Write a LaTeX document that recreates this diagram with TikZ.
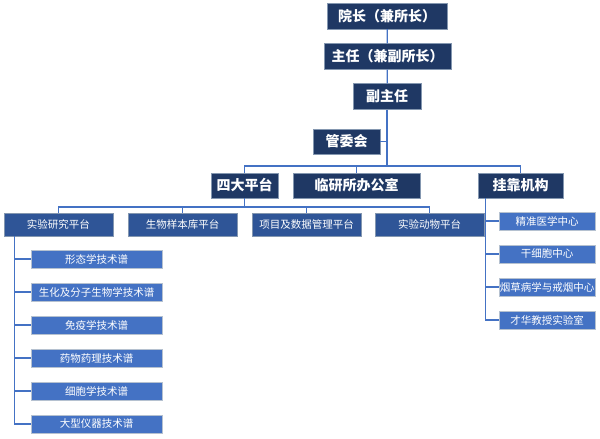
\documentclass[tikz,border=0pt]{standalone}
\usepackage{fontspec}
\setmainfont{Noto Sans CJK SC}
\usetikzlibrary{positioning,calc}
\definecolor{pnavy}{RGB}{31,56,100}
\definecolor{pmid}{RGB}{47,85,151}
\definecolor{plight}{RGB}{68,114,196}
\definecolor{pedge}{RGB}{132,151,176}
\definecolor{pline}{RGB}{68,114,196}

\begin{document}
\begin{tikzpicture}[x=1pt,y=-1pt,
    topbox/.style={fill=pnavy, draw=pedge, text=white, inner sep=0pt, minimum height=26pt, font=\fontsize{14}{14}\selectfont\bfseries},
    platbox/.style={fill=pmid, draw=pedge, text=white, inner sep=0pt, minimum width=109pt, minimum height=23pt, font=\fontsize{10.5}{10.5}\selectfont},
    subbox/.style={fill=plight, draw=pedge!60, text=white, inner sep=0pt, minimum height=18pt, font=\fontsize{10.5}{10.5}\selectfont},
    link/.style={draw=pline, line width=1.2pt}]
    \useasboundingbox (0,0) rectangle (600,439);

    % leadership
    \node[topbox, minimum width=120pt] (dean) at (387,16) {院长（兼所长）};
    \node[topbox, minimum width=127pt] (director) at (387.5,56.5) {主任（兼副所长）};
    \node[topbox, minimum width=68pt] (viceDirector) at (387,96.5) {副主任};
    \node[topbox, minimum width=67pt, minimum height=25pt] (committee) at (346.5,141.5) {管委会};

    % second level
    \node[topbox, minimum width=67pt, minimum height=25pt] (platforms) at (244.5,185.5) {四大平台};
    \node[topbox, minimum width=127pt, minimum height=25pt] (office) at (356.5,185.5) {临研所办公室};
    \node[topbox, minimum width=85pt, minimum height=25pt] (affiliates) at (520.5,185.5) {挂靠机构};

    % four platforms
    \node[platbox] (labPlatform) at (58.5,224.5) {实验研究平台};
    \node[platbox] (biobank) at (182.5,224.5) {生物样本库平台};
    \node[platbox] (dataPlatform) at (306.5,224.5) {项目及数据管理平台};
    \node[platbox] (animalPlatform) at (429.5,224.5) {实验动物平台};

    % technical spectra
    \foreach \name/\txt [count=\i from 0] in {morph/形态学技术谱, biochem/生化及分子生物学技术谱, immuno/免疫学技术谱, pharma/药物药理技术谱, cyto/细胞学技术谱, instr/大型仪器技术谱}
        \node[subbox, minimum width=131pt] (\name) at (96.5,259+33*\i) {\txt};

    % affiliated units
    \foreach \name/\txt [count=\i from 0] in {precision/精准医学中心, stemCell/干细胞中心, tobacco/烟草病学与戒烟中心, caiLab/才华教授实验室}
        \node[subbox, minimum width=96pt] (\name) at (547,221+33*\i) {\txt};

    % connectors
    \coordinate (busTop) at (387,166);
    \coordinate (busPlat) at (244.5,207);
    \draw[link] (dean) -- (director);
    \draw[link] (director) -- (viceDirector);
    \draw[link] (viceDirector) -- (busTop);
    \draw[link] (committee.east) -- (committee.east -| busTop);
    \draw[link] (platforms.north) |- (busTop) -| (affiliates.north);
    \draw[link] (office.north) -- (office.north |- busTop);
    \draw[link] (platforms.south) -- (busPlat);
    \draw[link] (labPlatform.north) |- (busPlat) -| (animalPlatform.north);
    \draw[link] (biobank.north) -- (biobank.north |- busPlat);
    \draw[link] (dataPlatform.north) -- (dataPlatform.north |- busPlat);

    \coordinate (labTrunk) at ($(labPlatform.south west)+(11,0)$);
    \draw[link] (labTrunk) |- (instr.west);
    \foreach \name in {morph, biochem, immuno, pharma, cyto}
        \draw[link] (\name.west) -- (\name.west -| labTrunk);

    \coordinate (affTrunk) at ($(affiliates.south west)+(8,0)$);
    \draw[link] (affTrunk) |- (caiLab.west);
    \foreach \name in {precision, stemCell, tobacco}
        \draw[link] (\name.west) -- (\name.west -| affTrunk);
\end{tikzpicture}
\end{document}
